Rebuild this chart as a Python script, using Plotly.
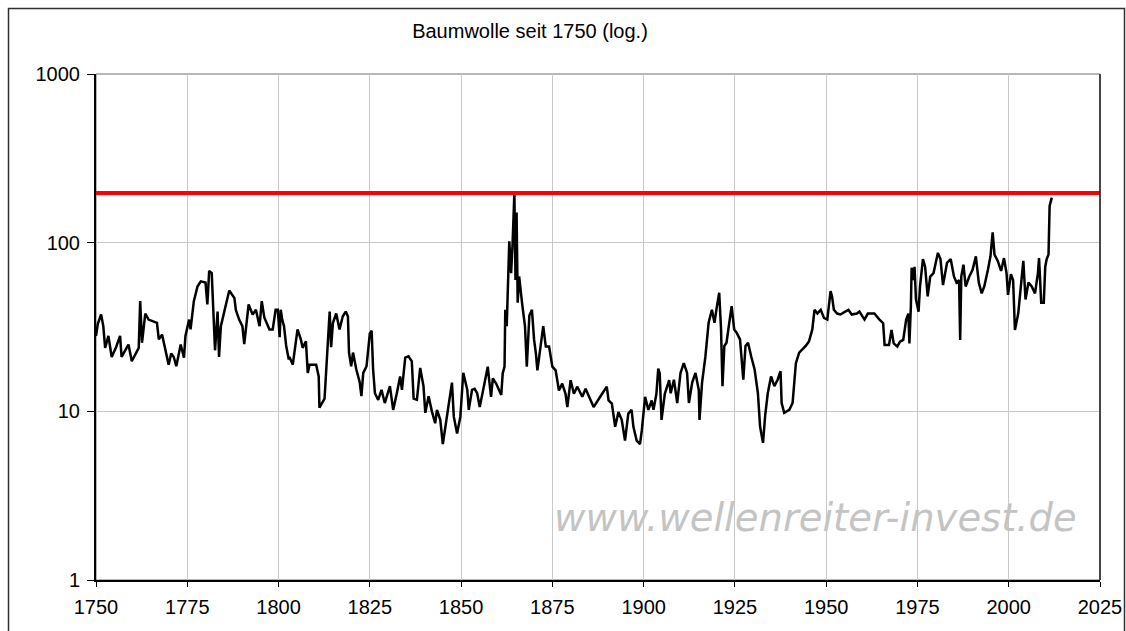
import plotly.graph_objects as go

# ---- data ----
years = [
    1750.0, 1750.5, 1751.4, 1752.0, 1752.5, 1753.4, 1754.3, 1755.5, 1756.6, 1757.0,
    1758.0, 1758.9, 1759.8, 1760.8, 1761.7, 1762.1, 1762.6, 1763.5, 1764.4, 1766.7,
    1767.2, 1768.1, 1769.0, 1769.9, 1770.6, 1771.3, 1772.0, 1773.2, 1774.1, 1774.5,
    1775.5, 1775.9, 1776.8, 1777.8, 1778.7, 1780.0, 1780.5, 1781.0, 1781.7, 1782.0,
    1782.6, 1783.3, 1783.7, 1784.2, 1785.1, 1786.5, 1787.9, 1788.3, 1789.2, 1790.1,
    1790.6, 1791.8, 1792.9, 1793.8, 1794.8, 1795.4, 1796.1, 1797.5, 1798.4, 1799.2,
    1799.8, 1800.3, 1800.6, 1801.0, 1801.5, 1802.1, 1802.8, 1803.0, 1803.9, 1804.3,
    1805.2, 1806.1, 1806.6, 1807.5, 1808.0, 1808.5, 1810.3, 1811.0, 1811.2, 1812.6,
    1813.5, 1814.0, 1814.4, 1814.9, 1815.8, 1816.7, 1817.6, 1818.4, 1819.0, 1819.3,
    1819.9, 1820.4, 1821.3, 1822.2, 1822.7, 1823.2, 1824.1, 1825.0, 1825.5, 1825.9,
    1826.4, 1827.3, 1828.2, 1829.1, 1830.5, 1831.4, 1832.4, 1833.3, 1833.8, 1834.7,
    1835.6, 1836.5, 1837.0, 1837.9, 1838.8, 1839.7, 1840.2, 1841.1, 1842.0, 1842.9,
    1843.4, 1844.3, 1845.0, 1845.7, 1846.6, 1847.5, 1848.0, 1848.9, 1849.8, 1850.6,
    1851.7, 1852.1, 1853.0, 1853.7, 1854.4, 1855.1, 1856.4, 1857.3, 1857.7, 1858.2,
    1858.7, 1859.6, 1861.0, 1861.4, 1861.9, 1862.1, 1862.5, 1862.8, 1863.2, 1863.7,
    1864.1, 1864.6, 1864.9, 1865.2, 1865.5, 1865.9, 1866.4, 1866.8, 1867.5, 1868.0,
    1868.7, 1869.4, 1870.0, 1870.5, 1870.9, 1871.8, 1872.5, 1873.2, 1874.1, 1875.0,
    1875.9, 1876.8, 1877.7, 1878.6, 1879.1, 1880.0, 1880.9, 1881.8, 1883.2, 1884.1,
    1885.4, 1886.3, 1888.1, 1889.9, 1890.4, 1891.3, 1892.2, 1893.1, 1894.0, 1894.9,
    1895.8, 1896.7, 1897.2, 1898.1, 1899.0, 1899.5, 1900.4, 1901.3, 1902.2, 1902.7,
    1903.5, 1904.0, 1904.4, 1904.9, 1905.8, 1906.5, 1907.0, 1907.4, 1908.3, 1909.2,
    1910.1, 1911.0, 1911.9, 1912.4, 1913.3, 1914.2, 1915.1, 1915.3, 1916.0, 1916.9,
    1917.8, 1918.7, 1919.4, 1920.0, 1920.7, 1921.2, 1921.6, 1922.1, 1922.7, 1923.2,
    1924.1, 1924.8, 1925.5, 1926.4, 1927.3, 1927.9, 1928.6, 1929.5, 1930.4, 1931.3,
    1931.9, 1932.7, 1933.3, 1934.0, 1934.9, 1935.8, 1936.7, 1937.5, 1937.8, 1938.5,
    1939.9, 1940.8, 1941.2, 1941.7, 1942.6, 1943.5, 1944.4, 1945.3, 1946.2, 1946.8,
    1947.6, 1948.5, 1949.4, 1950.3, 1950.7, 1951.2, 1951.6, 1952.1, 1953.0, 1953.9,
    1955.2, 1956.1, 1957.0, 1958.4, 1959.1, 1960.5, 1961.4, 1963.2, 1964.6, 1965.6,
    1966.0, 1967.2, 1967.9, 1968.5, 1969.5, 1970.2, 1971.1, 1971.9, 1972.5, 1972.8,
    1973.2, 1973.4, 1973.9, 1974.2, 1974.6, 1975.3, 1975.7, 1976.5, 1977.1, 1977.8,
    1978.5, 1979.4, 1980.6, 1981.3, 1982.0, 1983.1, 1984.1, 1985.0, 1985.7, 1986.4,
    1986.7, 1987.0, 1987.6, 1988.2, 1989.2, 1990.1, 1991.0, 1991.8, 1992.6, 1993.3,
    1994.3, 1995.0, 1995.6, 1996.1, 1997.0, 1997.9, 1998.7, 1999.4, 1999.8, 2000.6,
    2001.2, 2001.7, 2002.6, 2003.3, 2004.0, 2004.6, 2005.4, 2006.3, 2007.2, 2008.0,
    2008.3, 2008.9, 2009.6, 2010.0, 2010.4, 2010.9, 2011.1, 2011.2, 2011.8,
]
prices = [
    28, 33, 37.5, 32, 23.8, 28, 21, 24, 28, 21,
    23, 24.9, 19.8, 22, 23.8, 45, 25.5, 38, 35, 33.5,
    26.7, 28.5, 23.2, 18.9, 22, 21, 18.5, 24.9, 20.8, 28,
    35, 30.6, 45, 55, 59, 58, 43, 68, 66, 46,
    23, 39, 21, 32, 39, 52, 47, 40, 35, 32,
    25, 43, 37.5, 40, 32, 45, 36, 30.6, 30.6, 40,
    40, 27.5, 40, 35, 32, 24.4, 20.3, 21, 18.9, 22.3,
    30.6, 26.7, 23.8, 26, 16.9, 18.9, 18.9, 16.1, 10.5, 11.9,
    28, 39, 24, 33.5, 38, 30.6, 36.6, 39, 36.6, 22.3,
    18.5, 22.3, 17.7, 15, 12.3, 16.9, 18.5, 29, 30, 17.7,
    12.8, 11.7, 13.4, 11.2, 14.1, 10.2, 12.8, 16.1, 13.4, 20.8,
    21.2, 19.8, 11.9, 11.7, 18.1, 14.1, 9.8, 12.3, 10, 8.5,
    10.2, 8.9, 6.4, 8.1, 11.7, 14.8, 9.3, 7.4, 9.3, 16.9,
    13.4, 10.2, 13.4, 13.6, 12.8, 10.6, 14.6, 18.4, 15.3, 12.2,
    15.7, 14.6, 12.5, 16.8, 18.4, 40, 32, 52, 102, 66,
    98, 198, 60, 151, 44, 63, 48, 42, 32, 18.4,
    37, 40, 26.5, 22, 17.5, 24.2, 32, 24.2, 24.2, 18.4,
    17.5, 13.3, 14.6, 12.7, 10.6, 15.3, 12.7, 14, 12.2, 13.6,
    11.6, 10.6, 12.2, 14, 11.6, 11.1, 8.1, 9.9, 8.9, 6.7,
    9.7, 10.2, 8.1, 6.7, 6.4, 7.7, 12.2, 10.2, 11.6, 10.2,
    12.7, 17.9, 16.8, 8.9, 12.7, 14.1, 15.3, 12.8, 15.4, 11.2,
    16.9, 19.3, 16.9, 11.2, 14.8, 16.9, 13.4, 8.9, 14.8, 21,
    33.5, 40, 33.5, 41, 50.5, 30.6, 14.1, 24.4, 25.5, 30.6,
    42, 30.6, 29.2, 26.7, 15.4, 24.4, 25.5, 21, 17.7, 12.8,
    8.1, 6.5, 9.5, 12.8, 16.1, 14.1, 15.4, 17.3, 11.2, 9.8,
    10.2, 11.2, 14.1, 19.3, 22.3, 23.2, 24.4, 26, 30.6, 40,
    38, 40, 35.8, 35, 42, 51.6, 48, 40, 38, 37.5,
    39, 40, 37.5, 38, 39, 35, 38, 38, 35, 33.3,
    24.7, 24.7, 30.4, 25.3, 24.2, 25.9, 26.5, 34.9, 38, 25.3,
    42, 71, 60, 72, 46, 39, 55, 80, 72, 48,
    63, 66, 87, 80, 56, 76, 80, 63, 58, 60,
    26.5, 63, 74, 55, 63, 69, 83, 58, 50, 55,
    69, 83, 115, 85, 78, 68, 81, 66, 49, 65,
    60, 30.4, 38, 53, 78, 46, 58, 55, 50, 66,
    81, 44, 44, 72, 80, 85, 120, 165, 185,
]
resistance_level = 197
x_ticks = [1750, 1775, 1800, 1825, 1850, 1875, 1900, 1925, 1950, 1975, 2000, 2025]
y_ticks = [1, 10, 100, 1000]
y_ticktext = ["1", "10", "100", "1000"]
title_text = "Baumwolle seit 1750 (log.)"
watermark = "www.wellenreiter-invest.de"

FONT = "Liberation Sans, Arial, sans-serif"

# target plot area in pixels
PL, PR, PT, PB = 96, 1100, 74, 580
PW, PH = PR - PL, PB - PT

fig = go.Figure()
fig.add_trace(go.Scatter(
    x=years, y=prices, mode="lines",
    line=dict(color="black", width=2.5),
    showlegend=False, hoverinfo="skip",
))
fig.add_hline(y=resistance_level, line=dict(color="#ff0000", width=4), layer="above")

fig.update_layout(
    width=1126, height=631,
    autosize=False,
    margin=dict(l=PL, r=1126 - PR, t=PT, b=631 - PB, pad=0, autoexpand=False),
    paper_bgcolor="white", plot_bgcolor="white",
    showlegend=False,
    title=dict(text=title_text, x=530 / 1126, xanchor="center",
               y=1 - 31 / 631, yanchor="middle",
               font=dict(family=FONT, size=20, color="black")),
    font=dict(family=FONT, size=20, color="black"),
)
fig.update_xaxes(
    range=[1750, 2025], tickvals=x_ticks,
    showgrid=True, gridcolor="#c8c8c8", gridwidth=1,
    showline=True, linecolor="black", linewidth=2,
    ticks="outside", ticklen=5, tickcolor="black",
    ticklabelstandoff=3,
    tickfont=dict(family=FONT, size=20, color="black"),
    zeroline=False, automargin=False,
)
fig.update_yaxes(
    type="log", range=[0, 3], tickvals=y_ticks, ticktext=y_ticktext,
    showgrid=True, gridcolor="#c8c8c8", gridwidth=1,
    showline=True, linecolor="black", linewidth=2,
    ticks="outside", ticklen=7, tickcolor="black",
    ticklabelstandoff=3,
    tickfont=dict(family=FONT, size=20, color="black"),
    zeroline=False, automargin=False,
)

# plot frame (top/right) and outer chart border
fig.add_shape(type="rect", xref="paper", yref="paper", x0=0, x1=1, y0=0, y1=1,
              line=dict(color="#707070", width=1), layer="below")
fig.add_shape(type="line", xref="paper", yref="paper", x0=1, x1=1, y0=0, y1=1,
              line=dict(color="#202020", width=1.5), layer="above")
fig.add_shape(type="rect", xref="paper", yref="paper",
              x0=(8.5 - PL) / PW, x1=(1124.5 - PL) / PW,
              y0=-0.3, y1=(PB - 8.5) / PH,
              line=dict(color="#303030", width=1.5), layer="above")

fig.add_annotation(
    text=watermark, xref="paper", yref="paper",
    x=(815 - PL) / PW, y=(PB - 517) / PH,
    xanchor="center", yanchor="middle", showarrow=False,
    font=dict(family="DejaVu Sans", size=38.5, color="#c4c4c4", style="italic"),
)

fig.write_html(
    "out.html",
    config={"displayModeBar": False, "responsive": False},
    post_script="document.body.style.margin='0';document.body.style.overflow='hidden';",
)
